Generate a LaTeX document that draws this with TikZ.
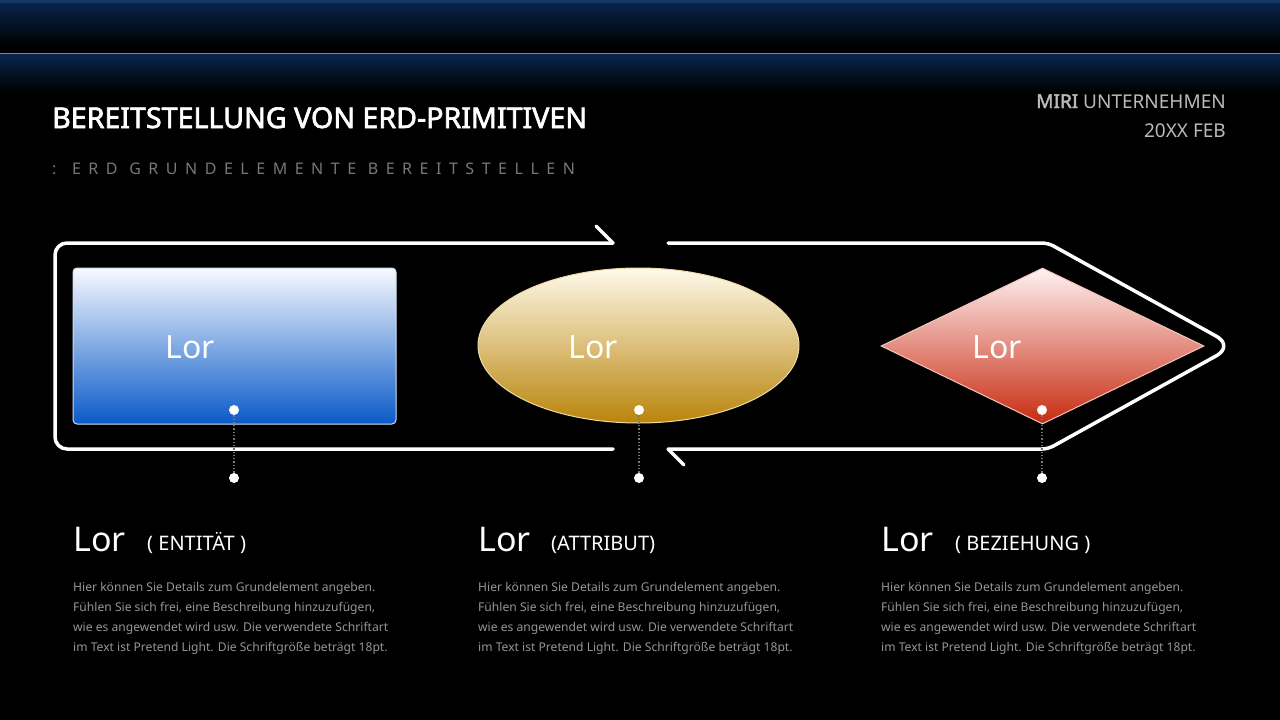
\documentclass[tikz,border=0pt]{standalone}
\usepackage{fontspec}
\setmainfont{Noto Sans}[BoldFont={Noto Sans}, BoldFeatures={FakeBold=2.2}]
\usetikzlibrary{shapes.geometric, positioning}
\definecolor{bandblue}{RGB}{8, 38, 78}
\definecolor{bandtop}{RGB}{20, 55, 100}
\definecolor{bandline}{RGB}{110, 140, 160}
\definecolor{entitytop}{RGB}{248, 250, 255}
\definecolor{entitymid}{RGB}{115, 160, 220}
\definecolor{entitybot}{RGB}{10, 90, 200}
\definecolor{attrtop}{RGB}{255, 250, 235}
\definecolor{attrmid}{RGB}{212, 170, 64}
\definecolor{attrbot}{RGB}{185, 132, 10}
\definecolor{reltop}{RGB}{255, 242, 242}
\definecolor{relmid}{RGB}{226, 130, 110}
\definecolor{relbot}{RGB}{200, 42, 16}
\definecolor{subgray}{RGB}{120, 120, 120}
\definecolor{headgray}{RGB}{185, 185, 185}
\definecolor{descgray}{RGB}{150, 150, 150}
\definecolor{dotgray}{RGB}{120, 120, 120}
\newcommand{\detailtext}{Hier können Sie Details zum Grundelement angeben.\\
    Fühlen Sie sich frei, eine Beschreibung hinzuzufügen,\\
    wie es angewendet wird usw. Die verwendete Schriftart\\
    im Text ist Pretend Light. Die Schriftgröße beträgt 18pt.}
\tikzset{
    titletext/.style = {text=white, inner sep=0pt, font=\fontsize{28.6}{34}\selectfont\bfseries},
    subtext/.style = {text=subgray, inner sep=0pt, font=\fontsize{16}{20}\selectfont\addfontfeature{LetterSpace=47}},
    headtext/.style = {text=headgray, inner sep=0pt, font=\fontsize{19}{24}\selectfont},
    entitybox/.style = {draw=entitytop!70!entitymid, line width=1pt, rectangle, rounded corners=4pt, inner sep=0pt,
      top color=entitytop, middle color=entitymid, bottom color=entitybot},
    attributebox/.style = {draw=attrtop!60!attrmid, line width=1pt, ellipse, inner sep=0pt,
      top color=attrtop, middle color=attrmid, bottom color=attrbot},
    relationbox/.style = {draw=reltop!60!relmid, line width=1pt, diamond, inner sep=0pt,
      top color=reltop, middle color=relmid, bottom color=relbot},
    shapelabel/.style = {text=white, inner sep=0pt, font=\fontsize{32}{36}\selectfont},
    dotnode/.style = {fill=white, circle, minimum size=10pt, inner sep=0pt, on grid},
    dotline/.style = {dotgray, dotted, line width=1.3pt},
    outline/.style = {white, line width=3.5pt, line cap=round, line join=round},
    captiontext/.style = {text=white, inner sep=0pt, font=\fontsize{34}{40}\selectfont},
    tagtext/.style = {text=white, inner sep=0pt, font=\fontsize{20}{24}\selectfont},
    desctext/.style = {text=descgray, inner sep=0pt, align=left, font=\fontsize{12.1}{20}\selectfont}
}

\begin{document}
\begin{tikzpicture}[x=1pt, y=-1pt]
    \useasboundingbox (0,0) rectangle (1280,720);
    \fill[black] (0,0) rectangle (1280,720);
    \shade[top color=bandblue, bottom color=black] (0,0) rectangle (1280,46);
    \fill[bandtop] (0,0) rectangle (1280,3);
    \shade[top color=bandblue, bottom color=black] (0,54) rectangle (1280,92);
    \draw[bandline, line width=1pt] (0,53.5) -- (1280,53.5);

    \node [name=title, titletext, anchor=base west] at (52,128) {BEREITSTELLUNG VON ERD-PRIMITIVEN};
    \node [name=subtitle, subtext, anchor=base west] at (52,174) {: ERD GRUNDELEMENTE BEREITSTELLEN};
    \node [name=company, headtext, anchor=base east] at (1226,108) {\textbf{MIRI} UNTERNEHMEN};
    \node [name=date, headtext, anchor=base east] at (1226,137) {20XX FEB};

    \draw [outline, rounded corners=12pt] (613,243) -- (55,243) -- (55,449) -- (613,449);
    \draw [outline] (596,226) -- (613,243);
    \draw [outline] (668,243) [rounded corners=6pt] -- (1048,243) [rounded corners=20pt] -- (1234,346)
        [rounded corners=6pt] -- (1048,449) -- (668,449);
    \draw [outline] (668,449) -- (684,465);

    \node [name=entity, entitybox, minimum width=323pt, minimum height=156pt] at (234.5,346) {};
    \node [name=attribute, attributebox, minimum width=321pt, minimum height=155pt] at (638.5,345.5) {};
    \node [name=relation, relationbox, minimum width=323pt, minimum height=156pt] at (1042.5,346) {};

    \node [name=entitylabel, shapelabel] at (190,347) {Lor};
    \node [name=attributelabel, shapelabel] at (593,347) {Lor};
    \node [name=relationlabel, shapelabel] at (997,347) {Lor};

    \node [name=entitytop, dotnode] at (234,410) {};
    \node [name=entitybottom, dotnode, below=68pt of entitytop] {};
    \node [name=attributetop, dotnode] at (639,410) {};
    \node [name=attributebottom, dotnode, below=68pt of attributetop] {};
    \node [name=relationtop, dotnode] at (1042,410) {};
    \node [name=relationbottom, dotnode, below=68pt of relationtop] {};
    \draw [dotline] (entitytop) -- (entitybottom);
    \draw [dotline] (attributetop) -- (attributebottom);
    \draw [dotline] (relationtop) -- (relationbottom);

    \node [name=entitycap, captiontext, anchor=base west] at (73,551) {Lor};
    \node [name=entitytag, tagtext, anchor=base west] at (147,550) {( ENTITÄT )};
    \node [name=entitydesc, desctext, anchor=north west] at (73,582) {\detailtext};

    \node [name=attributecap, captiontext, anchor=base west] at (478,551) {Lor};
    \node [name=attributetag, tagtext, anchor=base west] at (551,550) {(ATTRIBUT)};
    \node [name=attributedesc, desctext, anchor=north west] at (478,582) {\detailtext};

    \node [name=relationcap, captiontext, anchor=base west] at (881,551) {Lor};
    \node [name=relationtag, tagtext, anchor=base west] at (955,550) {( BEZIEHUNG )};
    \node [name=relationdesc, desctext, anchor=north west] at (881,582) {\detailtext};
\end{tikzpicture}
\end{document}
